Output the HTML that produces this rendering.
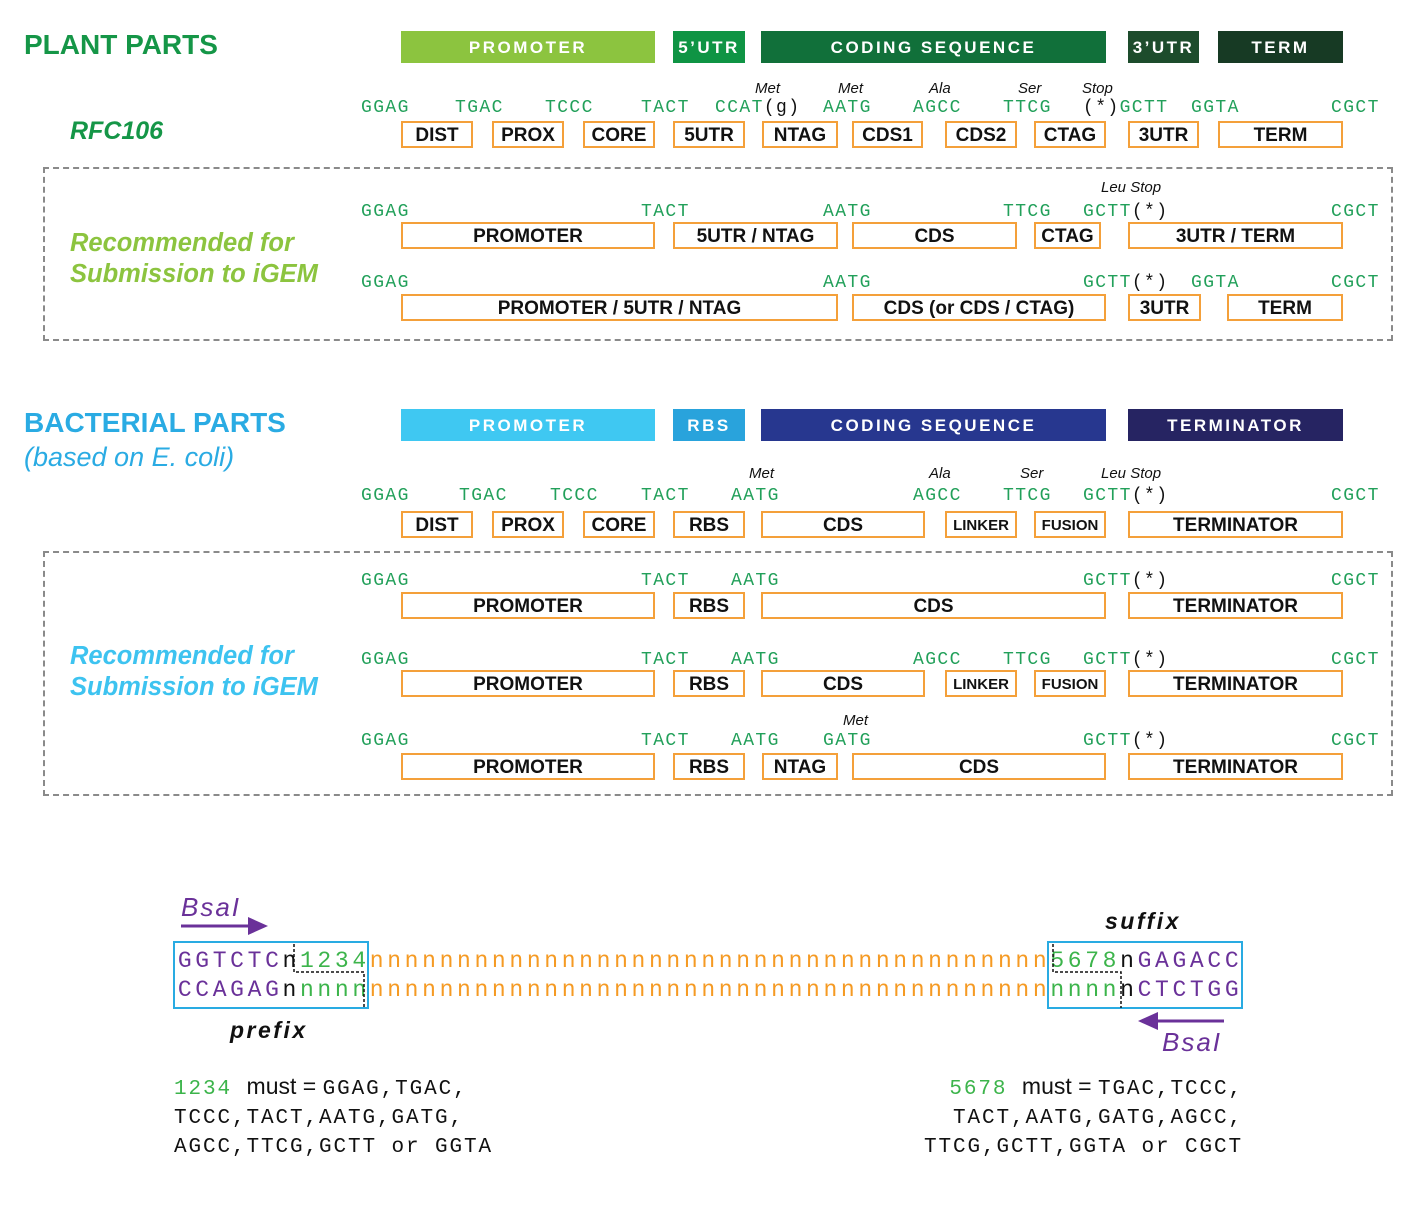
<!DOCTYPE html>
<html><head><meta charset="utf-8">
<style>
html,body{margin:0;padding:0;background:#fff;}
#root{position:relative;width:1407px;height:1218px;overflow:hidden;font-family:"Liberation Sans",sans-serif;}
.abs{position:absolute;}
.hdr{position:absolute;color:#fff;font-weight:bold;font-size:17px;letter-spacing:2.5px;text-align:center;line-height:33px;height:32px;}
.box{position:absolute;box-sizing:border-box;border:2px solid #f4a03a;font-weight:bold;font-size:19px;text-align:center;color:#111;background:#fff;}
.seq{position:absolute;font-family:"Liberation Mono",monospace;font-size:18px;letter-spacing:1.4px;color:#22a05a;line-height:18px;white-space:pre;}
.seq .k{color:#111;}
.ann{position:absolute;font-style:italic;font-size:15px;color:#111;line-height:15px;white-space:pre;}
.dash{position:absolute;box-sizing:border-box;border:2px dashed #8a8a8a;}
.title{position:absolute;font-weight:bold;font-size:28px;white-space:pre;}
.rec{position:absolute;font-weight:bold;font-style:italic;font-size:25.5px;line-height:31px;white-space:pre;}
.ch{position:absolute;font-family:"Liberation Mono",monospace;font-size:23px;width:17.45px;text-align:center;line-height:24px;}
.note{position:absolute;font-family:"Liberation Mono",monospace;font-size:21px;letter-spacing:1.9px;line-height:29px;white-space:pre;color:#111;}
.note .s{font-family:"Liberation Sans",sans-serif;letter-spacing:0;font-size:23px;}
</style></head>
<body>
<div id="root">
  <div class="title" style="left:24px;top:29px;color:#159647;">PLANT PARTS</div>
  <div class="title" style="left:70px;top:117px;color:#159647;font-style:italic;font-size:25px;">RFC106</div>
  <div class="dash" style="left:43px;top:167px;width:1350px;height:174px;"></div>
  <div class="rec" style="left:70px;top:228px;color:#8cc43f;">Recommended for
Submission to iGEM</div>

  <div class="title" style="left:24px;top:407px;color:#2aabe3;">BACTERIAL PARTS</div>
  <div class="abs" style="left:24px;top:442px;color:#2aabe3;font-style:italic;font-size:27px;">(based on E. coli)</div>
  <div class="dash" style="left:43px;top:551px;width:1350px;height:245px;"></div>
  <div class="rec" style="left:70px;top:641px;color:#3dc3f0;">Recommended for
Submission to iGEM</div>
</div>
<script>
const root=document.getElementById('root');
function add(cls,html,style){const d=document.createElement('div');d.className=cls;d.innerHTML=html;Object.assign(d.style,style);root.appendChild(d);return d;}

const headers=[["PROMOTER",401,655,31,"#8cc43f"],["5’UTR",673,745,31,"#0f9444"],["CODING SEQUENCE",761,1106,31,"#11703a"],["3’UTR",1128,1199,31,"#1d4c2c"],["TERM",1218,1343,31,"#173a24"],
["PROMOTER",401,655,409,"#3fc8f2"],["RBS",673,745,409,"#29a3dc"],["CODING SEQUENCE",761,1106,409,"#27378f"],["TERMINATOR",1128,1343,409,"#262462"]];
headers.forEach(h=>{const d=add('hdr',h[0],{left:h[1]+'px',top:h[3]+'px',width:(h[2]-h[1])+'px',background:h[4]});

});

const rows=[
[121,[["DIST",401,473],["PROX",492,564],["CORE",583,655],["5UTR",673,745],["NTAG",762,838],["CDS1",852,923],["CDS2",945,1017],["CTAG",1034,1106],["3UTR",1128,1199],["TERM",1218,1343]]],
[222,[["PROMOTER",401,655],["5UTR / NTAG",673,838],["CDS",852,1017],["CTAG",1034,1101],["3UTR / TERM",1128,1343]]],
[294,[["PROMOTER / 5UTR / NTAG",401,838],["CDS (or CDS / CTAG)",852,1106],["3UTR",1128,1201],["TERM",1227,1343]]],
[511,[["DIST",401,473],["PROX",492,564],["CORE",583,655],["RBS",673,745],["CDS",761,925],["LINKER",945,1017,15],["FUSION",1034,1106,15],["TERMINATOR",1128,1343]]],
[592,[["PROMOTER",401,655],["RBS",673,745],["CDS",761,1106],["TERMINATOR",1128,1343]]],
[670,[["PROMOTER",401,655],["RBS",673,745],["CDS",761,925],["LINKER",945,1017,15],["FUSION",1034,1106,15],["TERMINATOR",1128,1343]]],
[753,[["PROMOTER",401,655],["RBS",673,745],["NTAG",762,838],["CDS",852,1106],["TERMINATOR",1128,1343]]]];
rows.forEach(r=>r[1].forEach(b=>{const fs=b[3]||19;const d=add('box',b[0],{left:b[1]+'px',top:r[0]+'px',width:(b[2]-b[1])+'px',height:'27px',lineHeight:'25px',fontSize:fs+'px'});

}));

const seqs=[
[113,[["GGAG",361],["TGAC",455],["TCCC",545],["TACT",641],["CCAT<span class=k>(g)</span>",715],["AATG",823],["AGCC",913],["TTCG",1003],["<span class=k>(*)</span>GCTT",1083],["GGTA",1191],["CGCT",1331]]],
[217,[["GGAG",361],["TACT",641],["AATG",823],["TTCG",1003],["GCTT<span class=k>(*)</span>",1083],["CGCT",1331]]],
[288,[["GGAG",361],["AATG",823],["GCTT<span class=k>(*)</span>",1083],["GGTA",1191],["CGCT",1331]]],
[501,[["GGAG",361],["TGAC",459],["TCCC",550],["TACT",641],["AATG",731],["AGCC",913],["TTCG",1003],["GCTT<span class=k>(*)</span>",1083],["CGCT",1331]]],
[586,[["GGAG",361],["TACT",641],["AATG",731],["GCTT<span class=k>(*)</span>",1083],["CGCT",1331]]],
[665,[["GGAG",361],["TACT",641],["AATG",731],["AGCC",913],["TTCG",1003],["GCTT<span class=k>(*)</span>",1083],["CGCT",1331]]],
[746,[["GGAG",361],["TACT",641],["AATG",731],["GATG",823],["GCTT<span class=k>(*)</span>",1083],["CGCT",1331]]]];
seqs.forEach(r=>r[1].forEach(s=>{const d=add('seq',s[0],{left:s[1]+'px',top:(r[0]-14)+'px'});

}));

const anns=[["Met",755,93],["Met",838,93],["Ala",929,93],["Ser",1018,93],["Stop",1082,93],["Leu Stop",1101,192],
["Met",749,478],["Ala",929,478],["Ser",1020,478],["Leu Stop",1101,478],["Met",843,725]];
anns.forEach(a=>{const d=add('ann',a[0],{left:a[1]+'px',top:(a[2]-12)+'px'});

});

const P='#6a3199',G='#3cb44b',O='#f59a23',K='#111';
const topRow=[["GGTCTC",P],["n",K],["1234",G],["n".repeat(39),O],["5678",G],["n",K],["GAGACC",P]];
const botRow=[["CCAGAG",P],["n",K],["nnnn",G],["n".repeat(39),O],["nnnn",G],["n",K],["CTCTGG",P]];
function drawRow(row,base){let i=0;row.forEach(seg=>{for(const c of seg[0]){const d=add('ch',c,{left:(176+i*17.45)+'px',top:(base-19)+'px',color:seg[1]});

i++;}});}
drawRow(topRow,968);drawRow(botRow,997);

const svg=`<svg width="1407" height="1218" style="position:absolute;left:0;top:0" xmlns="http://www.w3.org/2000/svg">
<rect x="174" y="942" width="194" height="66" fill="none" stroke="#29abe2" stroke-width="2"/>
<rect x="1048" y="942" width="194" height="66" fill="none" stroke="#29abe2" stroke-width="2"/>
<path d="M294 944V972H364V1008" fill="none" stroke="#111" stroke-width="1.5" stroke-dasharray="3,2"/>
<path d="M1053 944V972H1121V1008" fill="none" stroke="#111" stroke-width="1.5" stroke-dasharray="3,2"/>
<g><line x1="181" y1="926" x2="252" y2="926" stroke="#6a3199" stroke-width="3"/><polygon points="248,917 268,926 248,935" fill="#6a3199"/></g>
<g><line x1="1224" y1="1021" x2="1154" y2="1021" stroke="#6a3199" stroke-width="3"/><polygon points="1158,1012 1138,1021 1158,1030" fill="#6a3199"/></g>
<text x="181" y="916" font-family="Liberation Sans" font-style="italic" font-size="26" letter-spacing="2" fill="#6a3199">BsaI</text>
<text x="1162" y="1051" font-family="Liberation Sans" font-style="italic" font-size="26" letter-spacing="2" fill="#6a3199">BsaI</text>
<text x="230" y="1038" font-family="Liberation Sans" font-style="italic" font-weight="bold" font-size="23" letter-spacing="2.5" fill="#111">prefix</text>
<text x="1105" y="929" font-family="Liberation Sans" font-style="italic" font-weight="bold" font-size="23" letter-spacing="2.5" fill="#111">suffix</text>
</svg>`;
root.insertAdjacentHTML('beforeend',svg);

const n1=add('note','<span style="color:#3cb44b">1234</span> <span class=s>must = </span>GGAG,TGAC,\nTCCC,TACT,AATG,GATG,\nAGCC,TTCG,GCTT or GGTA',{left:'174px',top:'1072px'});


const n2=add('note','<span style="color:#3cb44b">5678</span> <span class=s>must = </span>TGAC,TCCC,\nTACT,AATG,GATG,AGCC,\nTTCG,GCTT,GGTA or CGCT',{right:'164px',top:'1072px',textAlign:'right'});


</script>
</body></html>
